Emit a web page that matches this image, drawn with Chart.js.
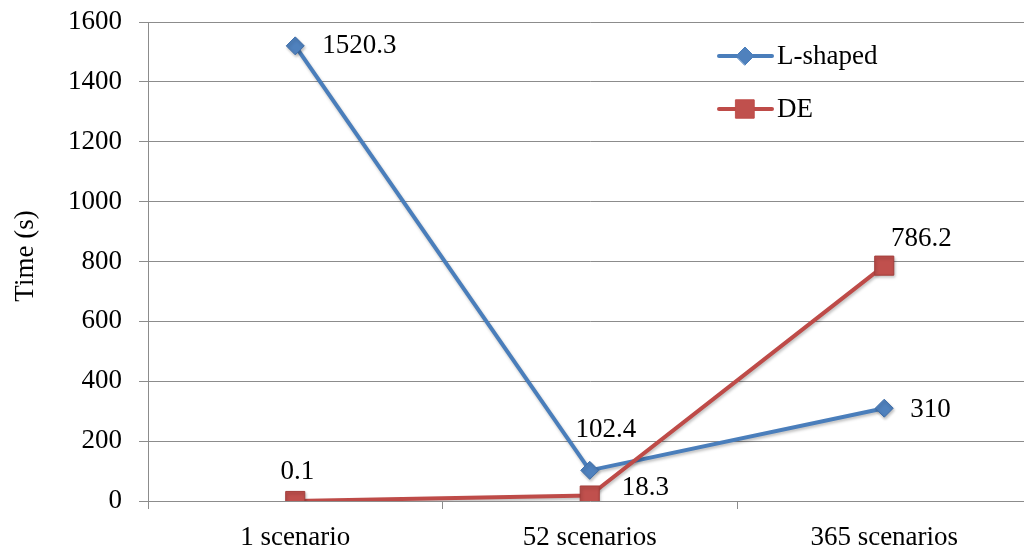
<!DOCTYPE html>
<html>
<head>
<meta charset="utf-8">
<script src="https://cdn.jsdelivr.net/npm/chart.js@4.4.0/dist/chart.umd.min.js"></script>
<style>
  html, body { margin: 0; padding: 0; background: #fff; overflow: hidden; }
  #wrap { width: 1046px; height: 550px; position: relative; }
</style>
</head>
<body>
<div id="wrap"><canvas id="c" width="1046" height="550"></canvas></div>
<script>
const categories = ['1 scenario', '52 scenarios', '365 scenarios'];
const lShaped = [1520.3, 102.4, 310];
const de = [0.1, 18.3, 786.2];
const seriesNames = ['L-shaped', 'DE'];
const yTicks = [0, 200, 400, 600, 800, 1000, 1200, 1400, 1600];
const yTitle = 'Time (s)';

const FONT = '"Liberation Serif", "Times New Roman", serif';
const BLUE = '#4A7EBB';
const RED = '#BE4B48';
const GRID = '#8c8c8c';

const labelStyle = {
  0: [[27, 0, 'left'], [16, -40, 'center'], [26, 2, 'left']],
  1: [[2, -29, 'center'], [32, -8, 'left'], [37, -27, 'center']]
};

const dataLabels = {
  id: 'dataLabels',
  afterDatasetsDraw(chart) {
    const ctx = chart.ctx;
    ctx.save();
    ctx.font = '27px ' + FONT;
    ctx.fillStyle = '#000';
    ctx.textBaseline = 'middle';
    chart.data.datasets.forEach((ds, di) => {
      const meta = chart.getDatasetMeta(di);
      meta.data.forEach((pt, i) => {
        const s = labelStyle[di][i];
        ctx.textAlign = s[2];
        ctx.fillText(String(ds.data[i]), pt.x + s[0], pt.y + s[1]);
      });
    });
    ctx.restore();
  }
};

const customLegend = {
  id: 'customLegend',
  afterDraw(chart) {
    const ctx = chart.ctx;
    ctx.save();
    const items = [
      { y: 56, color: BLUE, style: 'rectRot', r: 9, fill: '#4F81BD' },
      { y: 109, color: RED, style: 'rect', r: 13, fill: '#C0504D' }
    ];
    items.forEach((it, i) => {
      ctx.strokeStyle = it.color;
      ctx.lineWidth = 4;
      ctx.lineCap = 'round';
      ctx.beginPath();
      ctx.moveTo(719, it.y);
      ctx.lineTo(772, it.y);
      ctx.stroke();
      ctx.fillStyle = it.fill;
      ctx.strokeStyle = it.color;
      ctx.lineWidth = 1;
      Chart.helpers.drawPoint(ctx, { pointStyle: it.style, radius: it.r, borderWidth: 1 }, 745, it.y);
      ctx.font = '27px ' + FONT;
      ctx.fillStyle = '#000';
      ctx.textAlign = 'left';
      ctx.textBaseline = 'middle';
      ctx.fillText(seriesNames[i], 777, it.y + 1);
    });
    ctx.translate(26, 256);
    ctx.rotate(-Math.PI / 2);
    ctx.textAlign = 'center';
    ctx.textBaseline = 'middle';
    ctx.font = '27px ' + FONT;
    ctx.fillText(yTitle, 0, 0);
    ctx.restore();
  }
};

const shadow = {
  id: 'shadow',
  beforeDatasetsDraw(chart) {
    const ctx = chart.ctx;
    ctx.save();
    ctx.shadowColor = 'rgba(0,0,0,0.25)';
    ctx.shadowBlur = 3;
    ctx.shadowOffsetX = 1;
    ctx.shadowOffsetY = 2;
  },
  afterDatasetsDraw(chart) {
    chart.ctx.restore();
  }
};

new Chart(document.getElementById('c'), {
  type: 'line',
  data: {
    labels: categories,
    datasets: [
      {
        label: seriesNames[0], data: lShaped,
        borderColor: BLUE, backgroundColor: '#4F81BD',
        borderWidth: 4, pointStyle: 'rectRot', pointRadius: 9,
        pointBorderColor: '#3D6CA8', pointBorderWidth: 1, tension: 0, order: 1
      },
      {
        label: seriesNames[1], data: de,
        borderColor: RED, backgroundColor: '#C0504D',
        borderWidth: 4, pointStyle: 'rect', pointRadius: 13.5,
        pointBorderColor: '#A33E3B', pointBorderWidth: 1, tension: 0, order: 0
      }
    ]
  },
  options: {
    responsive: false,
    animation: false,
    devicePixelRatio: 1,
    layout: { padding: { top: 22, right: 0, left: 0, bottom: 0 } },
    plugins: { legend: { display: false }, tooltip: { enabled: false } },
    scales: {
      x: {
        offset: true,
        grid: { display: true, drawOnChartArea: false, drawTicks: true, tickLength: 8, color: GRID, offset: true },
        border: { display: false },
        ticks: { font: { family: FONT, size: 27 }, color: '#000', padding: 13 },
        afterFit(s) { s.height = 49; s.paddingLeft = 0; s.paddingRight = 0; }
      },
      y: {
        min: 0, max: 1600,
        afterBuildTicks(s) { s.ticks = yTicks.map(v => ({ value: v })); },
        grid: { color: GRID, lineWidth: 1, tickLength: 9, drawTicks: true },
        border: { display: true, color: GRID, width: 1 },
        ticks: { font: { family: FONT, size: 27 }, color: '#000', padding: 17, callback: v => String(v) },
        afterFit(s) { s.width = 148; s.paddingTop = 0; s.paddingBottom = 0; }
      }
    }
  },
  plugins: [shadow, dataLabels, customLegend]
});
</script>
</body>
</html>
